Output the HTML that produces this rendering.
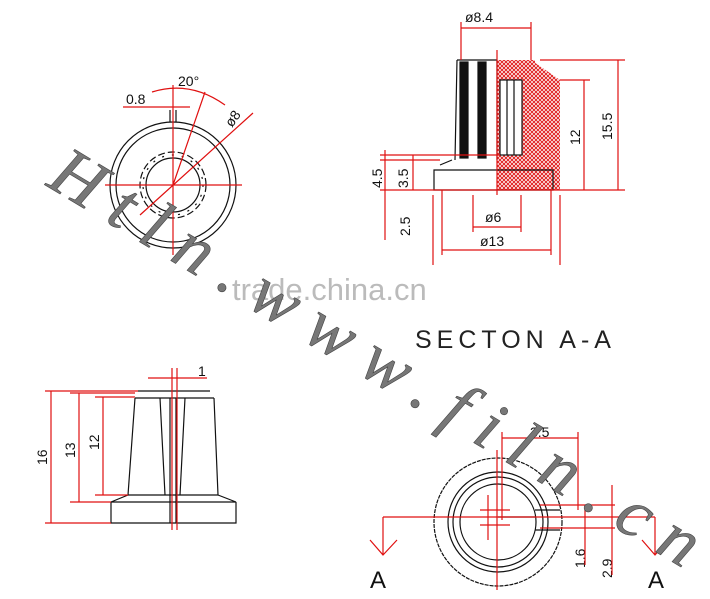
<!DOCTYPE html>
<html><head><style>body{margin:0;background:#fff}svg{display:block}</style></head><body>
<svg width="710" height="599" viewBox="0 0 710 599" xmlns="http://www.w3.org/2000/svg" font-family="Liberation Sans, sans-serif">
<defs>
<pattern id="h" width="4" height="4" patternUnits="userSpaceOnUse"><rect width="4" height="4" fill="#fff"/><path d="M0 0L4 4M4 0L0 4" stroke="#e02020" stroke-width="1"/></pattern>
</defs>
<g fill="none" stroke-width="1.2">
<!-- top-left front view -->
<g stroke="#111">
<circle cx="173" cy="185" r="63"/><circle cx="173" cy="185" r="57"/>
<circle cx="173" cy="185" r="33" stroke-dasharray="7 3"/><circle cx="173" cy="185" r="30" stroke-dasharray="2 8"/><circle cx="173" cy="185" r="27"/>
<path d="M170 122V110M176 122V110"/>
</g>
<g stroke="#e01010">
<path d="M105 185H242M173 85V255M123 107H190M140 215L253 113M173 185L205 92"/>
<path d="M152 92Q190 80 225 105"/>
</g>
<!-- top-right section -->
<rect x="497" y="60" width="38" height="130" fill="url(#h)" stroke="none"/>
<path d="M497 60H531L560 80V190H497Z" fill="url(#h)" stroke="none"/>
<rect x="500" y="80" width="22" height="75" fill="#fff" stroke="#111"/>
<path d="M507 80V155M514 80V155" stroke="#111"/>
<g stroke="#111">
<path d="M457 60H497M457 60L455 160M497 60V160"/>
<rect x="460" y="62" width="8" height="96" fill="#111"/><rect x="478" y="62" width="8" height="96" fill="#111"/>
<path d="M452 160L440 165M434 170H553V190H434Z"/>
</g>
<g stroke="#e01010">
<path d="M461 28H531M461 22V60M531 22V60M497 50V195M540 60H625M560 80H590M618 60V190M584 80V190M380 155H500M380 160H440M380 190H625M385 150V240M413 155V190M473 227H521M473 195V232M521 195V232M442 250H551M433 195V265M560 195V265M442 190V255M551 190V255"/>
</g>
<g font-size="14" fill="#111">
<text x="465" y="22">ø8.4</text><text x="485" y="222">ø6</text><text x="480" y="246">ø13</text>
<text transform="translate(612 140) rotate(-90)">15.5</text><text transform="translate(580 145) rotate(-90)">12</text>
<text transform="translate(382 188) rotate(-90)">4.5</text><text transform="translate(408 188) rotate(-90)">3.5</text>
<text transform="translate(410 236) rotate(-90)">2.5</text>
<text x="126" y="104">0.8</text><text x="178" y="86">20°</text><text transform="translate(232 128) rotate(-55)">ø8</text>
<text x="198" y="376">1</text>
<text transform="translate(47 465) rotate(-90)">16</text><text transform="translate(75 458) rotate(-90)">13</text><text transform="translate(99 450) rotate(-90)">12</text>
<text x="530" y="437">3.5</text>
<text transform="translate(585 568) rotate(-90)">1.6</text><text transform="translate(612 578) rotate(-90)">2.9</text>
</g>
<!-- bottom-left side view -->
<g stroke="#111">
<path d="M138 391H210M135 398H214M135 398L128 495H218L214 398"/>
<path d="M128 495L111 502H236L218 495M111 502V523H236V502"/>
<path d="M160 398L165 495M185 398L180 495M170 398V523M176 398V523"/>
</g>
<g stroke="#e01010">
<path d="M148 378H207M172 368V530M177 368V530M45 391H138M70 393H135M95 397H135M45 523H111M70 502H111M95 495H128M51 391V523M79 393V502M103 397V495"/>
</g>
<!-- bottom-right -->
<g stroke="#111">
<circle cx="498" cy="522" r="64" stroke-dasharray="4 1"/>
<circle cx="498" cy="522" r="50"/><circle cx="498" cy="522" r="45"/><circle cx="498" cy="522" r="38"/>
<path d="M535 510H560M535 530H560M498 517H535"/>
</g>
<g stroke="#e01010">
<path d="M383 517H655M383 517V555M655 517V555M370 540L383 555L397 540M642 540L655 555L668 540M497 450V590M502 432V520M578 432V510M502 438H578M540 505H615M540 528H615M585 505V565M612 485V575M488 495V540M480 510H510M480 525H510"/>
</g>
</g>
<g font-size="24" fill="#111"><text x="370" y="588">A</text><text x="648" y="588">A</text></g>
<text x="415" y="348" font-size="25" fill="#222" letter-spacing="5">SECTON A-A</text>
<text x="232" y="300" font-size="31" fill="#bbb">trade.china.cn</text>
<text transform="translate(45 185) rotate(31)" font-family="Liberation Serif, serif" font-style="italic" font-size="70" fill="#777" stroke="#444" stroke-width="0.6" textLength="745" lengthAdjust="spacing">Htln.www.filn.cn</text>
</svg>
</body></html>
